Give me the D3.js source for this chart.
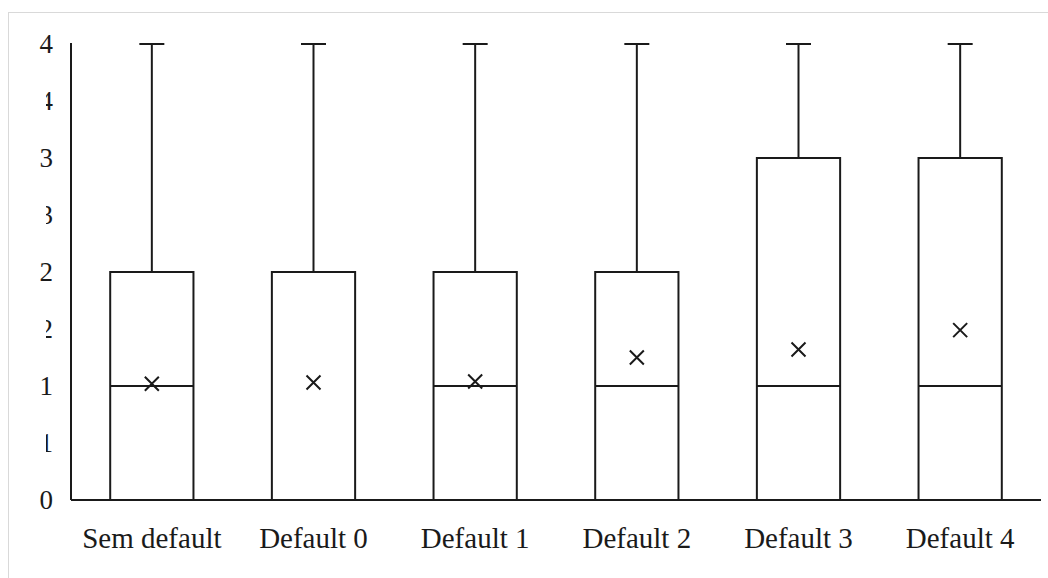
<!DOCTYPE html>
<html>
<head>
<meta charset="utf-8">
<script src="https://cdn.jsdelivr.net/npm/d3@7"></script>
<style>
  body { margin: 0; background: #fff; }
  svg { display: block; }
</style>
</head>
<body>
<div id="chart"></div>
<script>
// box plot values per category
var categories = ["Sem default", "Default 0", "Default 1", "Default 2", "Default 3", "Default 4"];
var mins    = [0, 0, 0, 0, 0, 0];
var q1s     = [0, 0, 0, 0, 0, 0];
var medians = [1, 2, 1, 1, 1, 1];
var q3s     = [2, 2, 2, 2, 3, 3];
var maxs    = [4, 4, 4, 4, 4, 4];
var means   = [1.02, 1.03, 1.04, 1.25, 1.32, 1.49];
var yTicks  = [0, 0.5, 1, 1.5, 2, 2.5, 3, 3.5, 4];

var data = categories.map(function (c, i) {
    return { name: c, min: mins[i], q1: q1s[i], med: medians[i], q3: q3s[i], max: maxs[i], mean: means[i] };
});

var W = 1048, H = 578;
var margin = { top: 44, right: 7, bottom: 78, left: 71 },
    width = W - margin.left - margin.right,
    height = H - margin.top - margin.bottom;

var svg = d3.select("#chart")
    .append("svg")
    .attr("width", W)
    .attr("height", H);

// chart area border
svg.append("rect")
    .attr("x", 8.5).attr("y", 12.5)
    .attr("width", W + 10).attr("height", H + 10)
    .attr("fill", "none")
    .attr("stroke", "#d9d9d9")
    .attr("stroke-width", 1);

var defs = svg.append("defs");
defs.append("clipPath").attr("id", "halfclip")
    .append("rect")
    .attr("x", 46).attr("y", 0)
    .attr("width", 20).attr("height", H);

var g = svg.append("g")
    .attr("transform", "translate(" + margin.left + "," + margin.top + ")");

var x = d3.scaleBand()
    .domain(categories)
    .range([0, width])
    .padding(0);

var y = d3.scaleLinear()
    .domain([0, 4])
    .range([height, 0]);

var ink = "#1a1a1a";
var font = "'Liberation Serif', 'Times New Roman', serif";

// y labels (half-step labels appear cut off in the original)
var yl = svg.append("g");
yl.selectAll("text")
    .data(yTicks)
    .enter().append("text")
    .attr("x", 53)
    .attr("y", function (d) { return margin.top + y(d); })
    .attr("dy", "0.35em")
    .attr("text-anchor", "end")
    .attr("clip-path", function (d) { return d % 1 ? "url(#halfclip)" : null; })
    .style("font-family", font)
    .style("font-size", "27px")
    .attr("fill", ink)
    .text(function (d) { return d3.format(".0f")(Math.round(d)); });

// x labels
g.append("g")
    .attr("transform", "translate(0," + height + ")")
    .call(d3.axisBottom(x).tickSize(0).tickPadding(27))
    .call(function (a) { a.select(".domain").remove(); })
    .selectAll("text")
    .style("font-family", font)
    .style("font-size", "29px")
    .attr("fill", ink);

var bw = x.bandwidth() * 0.515;
var cap = 25;

var box = g.selectAll("g.box")
    .data(data)
    .enter().append("g")
    .attr("class", "box")
    .attr("transform", function (d) { return "translate(" + (x(d.name) + x.bandwidth() / 2) + ",0)"; });

// whiskers
box.append("line")
    .attr("x1", 0).attr("x2", 0)
    .attr("y1", function (d) { return y(d.q3); })
    .attr("y2", function (d) { return y(d.max); })
    .attr("stroke", ink).attr("stroke-width", 2);
box.append("line")
    .attr("x1", -cap / 2).attr("x2", cap / 2)
    .attr("y1", function (d) { return y(d.max); })
    .attr("y2", function (d) { return y(d.max); })
    .attr("stroke", ink).attr("stroke-width", 2);

box.append("rect")
    .attr("x", -bw / 2)
    .attr("width", bw)
    .attr("y", function (d) { return y(d.q3); })
    .attr("height", function (d) { return y(d.q1) - y(d.q3); })
    .attr("fill", "none")
    .attr("stroke", ink).attr("stroke-width", 2);

box.append("line")
    .attr("x1", -bw / 2).attr("x2", bw / 2)
    .attr("y1", function (d) { return y(d.med); })
    .attr("y2", function (d) { return y(d.med); })
    .attr("stroke", ink).attr("stroke-width", 2);

// mean marker
var m = 7;
box.append("path")
    .attr("d", function (d) {
        var cy = y(d.mean);
        return "M" + (-m) + "," + (cy - m) + "L" + m + "," + (cy + m) +
            "M" + (-m) + "," + (cy + m) + "L" + m + "," + (cy - m);
    })
    .attr("stroke", ink).attr("stroke-width", 2).attr("fill", "none");

// axis lines
g.append("line")
    .attr("x1", 0).attr("x2", 0)
    .attr("y1", y(4) - 1).attr("y2", height)
    .attr("stroke", ink).attr("stroke-width", 2);
g.append("line")
    .attr("x1", 0).attr("x2", width)
    .attr("y1", height).attr("y2", height)
    .attr("stroke", ink).attr("stroke-width", 2);
</script>
</body>
</html>
